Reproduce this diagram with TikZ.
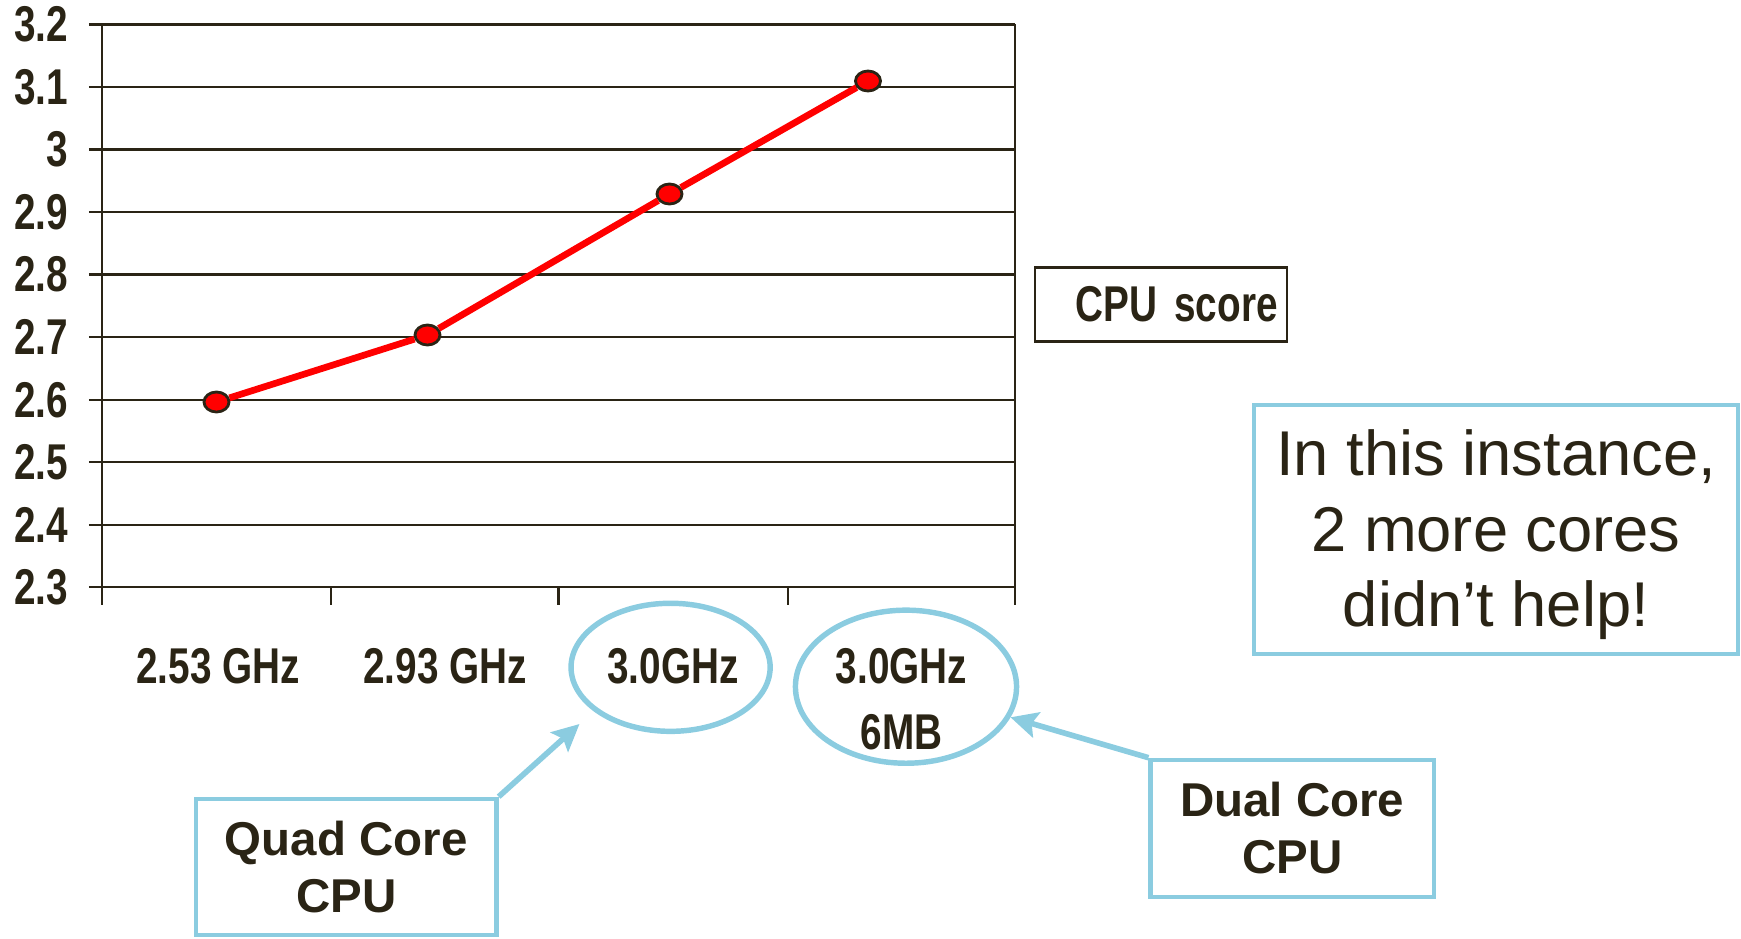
\documentclass[tikz,border=0pt]{standalone}
\usepackage{fontspec}
\setmainfont{Liberation Sans}
\newfontfamily\narrowfont[FakeStretch=0.77]{Liberation Sans Bold}
\usetikzlibrary{shapes.geometric, arrows.meta, positioning}
\definecolor{ink}{HTML}{2A2415}
\definecolor{callout}{HTML}{8BCCE0}

\begin{document}
\begin{tikzpicture}[x=0.01cm, y=-0.01cm]
  % 定义样式
  \tikzset{grid/.style = {draw=ink, line width=0.65pt}}
  \tikzset{ylab/.style = {anchor=east, inner sep=0pt, text=ink, font=\narrowfont\fontsize{14.3}{16}\selectfont}}
  \tikzset{xlab/.style = {align=center, inner sep=0pt, text=ink, font=\narrowfont\fontsize{14.3}{18.7}\selectfont}}
  \tikzset{marker/.style = {ellipse, draw=ink, fill=red, line width=0.8pt, minimum width=0.25cm, minimum height=0.2cm, inner sep=0pt}}
  \tikzset{ring/.style = {ellipse, draw=callout, line width=1.55pt, inner sep=0pt}}
  \tikzset{callbox/.style = {rectangle, draw=callout, align=center, text=ink}}
  \tikzset{pointer/.style = {draw=callout, line width=1.6pt, -{Stealth[length=2.7mm, width=2.6mm, inset=0.5mm]}}}

  \useasboundingbox (0,0) rectangle (1741,939);

  % 定义网格与坐标轴
  \foreach \y/\lab in {24.4/3.2, 86.95/3.1, 149.5/3, 212.05/2.9, 274.6/2.8,
                       337.15/2.7, 399.7/2.6, 462.25/2.5, 524.8/2.4, 587.35/2.3} {
    \draw[grid] (88.8,\y) -- (1015,\y);
    \node[ylab] at (69,\y) {\lab};
  }
  \draw[grid] (102,24.4) -- (102,605);
  \draw[grid] (1015,24.4) -- (1015,605);
  \foreach \x in {331, 558.5, 788} {
    \draw[grid] (\x,587.35) -- (\x,605);
  }

  % 定义横轴标签
  \node[xlab] (c1) at (218,666) {2.53 GHz};
  \node[xlab] (c2) at (445,666) {2.93 GHz};
  \node[xlab] (c3) at (673,666) {3.0GHz};
  \node[xlab] (c4) at (901.6,699) {3.0GHz\\6MB};

  % 定义数据点
  \node[marker] (p1) at (216.5,402) {};
  \node[marker] (p2) at (427.5,335) {};
  \node[marker] (p3) at (669.5,194) {};
  \node[marker] (p4) at (868,81) {};
  \draw[red, line width=1.9pt] (p1) -- (p2) -- (p3) -- (p4);

  % 图例
  \node[draw=ink, line width=0.6pt, minimum width=2.517cm, minimum height=0.74cm,
        text width=2.337cm, inner xsep=0.09cm, align=right, text=ink,
        font=\narrowfont\fontsize{14.3}{16}\selectfont] (legend) at (1160.9,304.5) {CPU score};

  % 标注
  \node[ring, minimum width=1.99cm, minimum height=1.28cm] (e3) at (670.6,667.3) {};
  \node[ring, minimum width=2.21cm, minimum height=1.53cm] (e4) at (906,686.7) {};

  \node[callbox, line width=1pt, minimum width=4.84cm, minimum height=2.49cm, text depth=0.7pt,
        font=\fontsize{18}{21.5}\selectfont] (note) at (1496,529.5)
        {In this instance,\\2 more cores\\didn’t help!};
  \node[callbox, line width=1.3pt, minimum width=3.0cm, minimum height=1.36cm,
        font=\bfseries\fontsize{13.5}{16.2}\selectfont] (quad) at (346.3,867) {Quad Core\\CPU};
  \node[callbox, line width=1.3pt, minimum width=2.83cm, minimum height=1.37cm,
        font=\bfseries\fontsize{13.5}{16.2}\selectfont] (dual) at (1292.3,828.5) {Dual Core\\CPU};

  \coordinate (qtip) at (579.5,724);
  \draw[pointer] (quad.north east) -- (qtip);
  \draw[pointer] (dual.north west) -- (e4);
\end{tikzpicture}
\end{document}
